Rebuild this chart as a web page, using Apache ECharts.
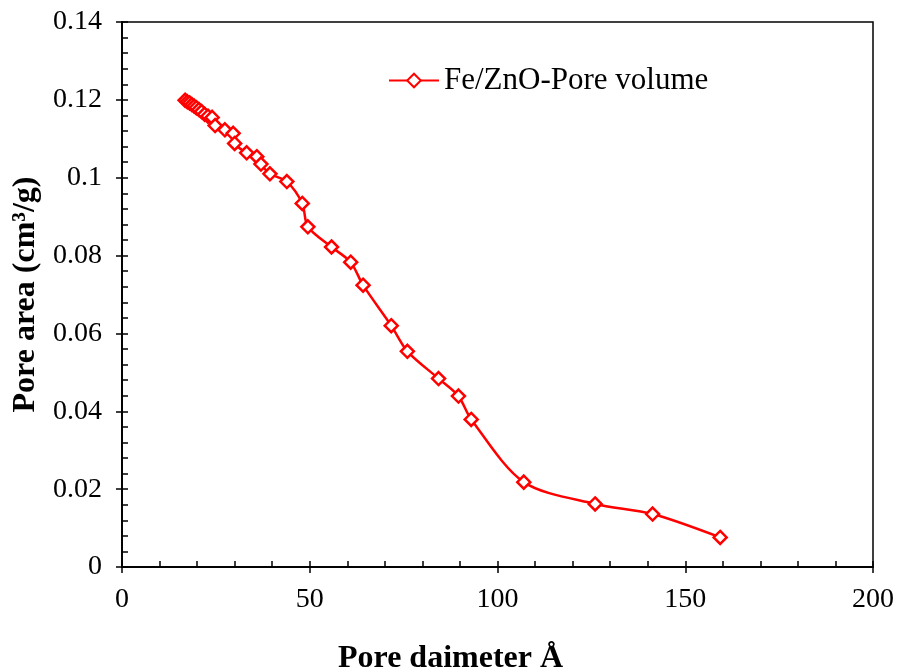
<!DOCTYPE html>
<html>
<head>
<meta charset="utf-8">
<script src="https://cdn.jsdelivr.net/npm/echarts@6/dist/echarts.min.js"></script>
<style>
  html, body { margin: 0; padding: 0; background: #fff; }
  #chart { width: 899px; height: 671px; }
</style>
</head>
<body>
<div id="chart"></div>
<script>
// BJH desorption: pore diameter (Å) vs cumulative pore volume (cm³/g)
const poreDiameter = [
  16.8, 17.4, 18.0, 18.6, 19.2, 19.8, 20.5, 21.2, 22.0, 22.9,
  24.0, 24.8, 27.4, 29.6, 30.0, 33.2, 35.9, 37.0, 39.4, 43.9,
  48.0, 49.5, 55.8, 60.9, 64.2, 71.7, 76.0, 84.3, 89.6, 93.0,
  107.0, 126.0, 141.3, 159.3
];
const poreVolume = [
  0.1199, 0.1195, 0.1192, 0.1188, 0.1184, 0.1180, 0.1175, 0.1170, 0.1163, 0.1158,
  0.1155, 0.1134, 0.1123, 0.1114, 0.1088, 0.1064, 0.1054, 0.1035, 0.1010, 0.0990,
  0.0934, 0.0874, 0.0822, 0.0783, 0.0724, 0.0620, 0.0554, 0.0484, 0.0439, 0.0379,
  0.0218, 0.0162, 0.0136, 0.0076
];
const seriesName = 'Fe/ZnO-Pore volume';
const xTitle = 'Pore daimeter Å';
const yTitle = 'Pore area (cm³/g)';

const serif = '"Liberation Serif", "Times New Roman", serif';
const points = poreDiameter.map((d, i) => [d, poreVolume[i]]);

const chart = echarts.init(document.getElementById('chart'), null, { renderer: 'canvas' });

const axisLineStyle = { color: '#000', width: 1.5 };
const baseX = {
  type: 'value', min: 0, max: 200, interval: 50,
  axisLine: { show: true, lineStyle: axisLineStyle },
  splitLine: { show: false }
};
const baseY = {
  type: 'value', min: 0, max: 0.14, interval: 0.02,
  axisLine: { show: true, lineStyle: axisLineStyle },
  splitLine: { show: false }
};

chart.setOption({
  animation: false,
  backgroundColor: '#fff',
  grid: {
    left: 122, right: 26, top: 22, bottom: 104,
    outerBoundsMode: 'none', containLabel: false,
    show: true, borderColor: '#000', borderWidth: 1.5, backgroundColor: 'transparent'
  },
  legend: {
    left: 383, top: 60,
    itemWidth: 50, itemHeight: 17, itemGap: 8,
    textStyle: { fontFamily: serif, fontSize: 31, color: '#000' },
    data: [seriesName]
  },
  xAxis: [
    Object.assign({}, baseX, {
      position: 'bottom',
      name: xTitle, nameLocation: 'middle', nameGap: 76,
      nameTextStyle: {
        fontFamily: serif, fontSize: 32, fontWeight: 'bold', color: '#000',
        padding: [0, 94, 0, 0]
      },
      axisTick: { show: true, inside: true, length: 6, lineStyle: axisLineStyle },
      minorTick: { show: true, splitNumber: 5, length: 6, lineStyle: axisLineStyle },
      axisLabel: { fontFamily: serif, fontSize: 28, color: '#000', margin: 19 }
    }),
    Object.assign({}, baseX, {
      position: 'bottom',
      axisTick: { show: true, inside: false, length: 6, lineStyle: axisLineStyle },
      axisLabel: { show: false }
    })
  ],
  yAxis: [
    Object.assign({}, baseY, {
      position: 'left',
      name: yTitle, nameLocation: 'middle', nameGap: 80,
      nameTextStyle: { fontFamily: serif, fontSize: 32, fontWeight: 'bold', color: '#000' },
      axisTick: { show: true, inside: true, length: 6, lineStyle: axisLineStyle },
      minorTick: { show: true, splitNumber: 5, length: 6, lineStyle: axisLineStyle },
      axisLabel: {
        fontFamily: serif, fontSize: 28, color: '#000', margin: 20,
        formatter: v => (v === 0 ? '0' : String(+v.toFixed(2)))
      }
    }),
    Object.assign({}, baseY, {
      position: 'left',
      axisTick: { show: true, inside: false, length: 6, lineStyle: axisLineStyle },
      axisLabel: { show: false }
    })
  ],
  series: [{
    name: seriesName,
    type: 'line',
    xAxisIndex: 0, yAxisIndex: 0,
    data: points,
    smooth: 0.3,
    symbol: 'diamond',
    symbolSize: 13,
    showAllSymbol: true,
    itemStyle: { color: '#fff', borderColor: '#ff0000', borderWidth: 2.5 },
    lineStyle: { color: '#ff0000', width: 2.5 },
    emphasis: { disabled: true }
  }]
});
</script>
</body>
</html>
